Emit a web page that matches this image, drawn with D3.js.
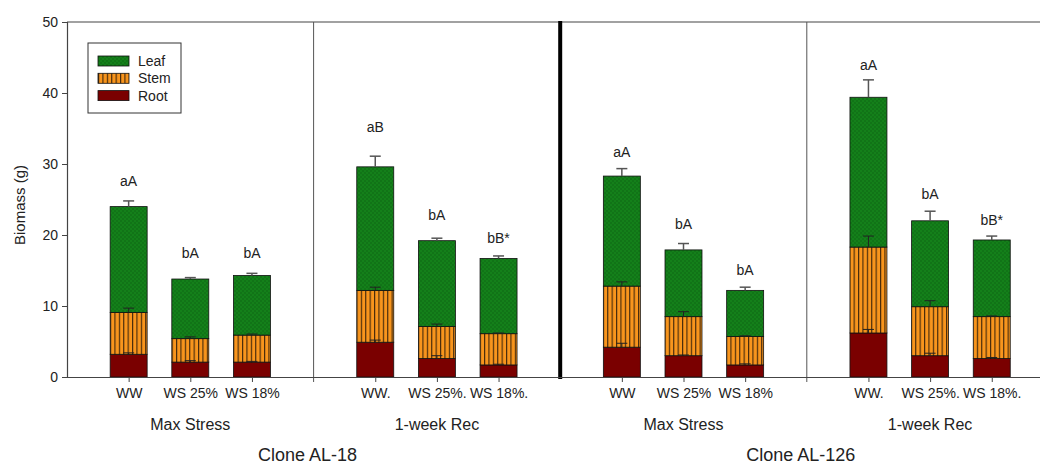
<!DOCTYPE html>
<html>
<head>
<meta charset="utf-8">
<script src="https://cdn.jsdelivr.net/npm/d3@7/dist/d3.min.js"></script>
<style>
  html, body { margin: 0; padding: 0; background: #fff; }
  svg { display: block; font-family: "Liberation Sans", Arial, sans-serif; }
</style>
</head>
<body>
<svg id="chart" width="1040" height="466"></svg>
<script>
// Biomass partitioning (root / stem / leaf) for two poplar clones
const clones = ["Clone AL-18", "Clone AL-126"];
const stages = ["Max Stress", "1-week Rec"];
const treatmentsStress = ["WW", "WS 25%", "WS 18%"];
const treatmentsRec = ["WW.", "WS 25%.", "WS 18%."];

// one value per bar, panel order: AL-18 stress, AL-18 rec, AL-126 stress, AL-126 rec
const root = [3.2, 2.1, 2.1, 4.9, 2.6, 1.7, 4.2, 3.0, 1.7, 6.2, 3.0, 2.6];
const stem = [5.9, 3.3, 3.8, 7.3, 4.5, 4.4, 8.6, 5.5, 4.0, 12.1, 6.9, 5.9];
const leaf = [14.9, 8.4, 8.4, 17.4, 12.1, 10.6, 15.5, 9.4, 6.5, 21.1, 12.1, 10.8];

const rootErr = [0.2, 0.2, 0.1, 0.3, 0.4, 0.1, 0.55, 0.1, 0.15, 0.5, 0.35, 0.15];
const stemErr = [0.6, 0.25, 0.15, 0.45, 0.35, 0.1, 0.6, 0.7, 0.1, 1.55, 0.85, 0.1];
const leafErr = [0.8, 0.2, 0.3, 1.5, 0.35, 0.35, 1.05, 0.9, 0.45, 2.45, 1.35, 0.55];

const letters = ["aA", "bA", "bA", "aB", "bA", "bB*", "aA", "bA", "bA", "aA", "bA", "bB*"];
const letterAt = [27.6, 17.5, 17.5, 35.2, 22.8, 19.6, 31.7, 21.5, 15.1, 43.9, 25.8, 22.1];

const yTicks = [0, 10, 20, 30, 40, 50];
const seriesNames = ["Root", "Stem", "Leaf"];

const rows = root.map((r, i) => ({
  i, panel: Math.floor(i / 3), slot: i % 3,
  Root: r, Stem: stem[i], Leaf: leaf[i],
  rootErr: rootErr[i], stemErr: stemErr[i], leafErr: leafErr[i],
  letter: letters[i], letterAt: letterAt[i],
  label: (Math.floor(i / 3) % 2 === 0 ? treatmentsStress : treatmentsRec)[i % 3]
}));

const svg = d3.select("#chart");
const ink = "#222";
const plotTop = 22, plotBottom = 377, plotLeft = 67;

// four panels, each four slots wide; bars sit on slots 1..3
const x = d3.scaleLinear().domain([0, 16]).range([plotLeft, plotLeft + 4 * 246.6]);
const y = d3.scaleLinear().domain([0, 50]).range([plotBottom, plotTop]);
const barW = (x(1) - x(0)) * 0.6;
const cx = d => x(d.panel * 4 + d.slot + 1);

// fill patterns
const defs = svg.append("defs");
const leafPat = defs.append("pattern").attr("id", "leafPat")
  .attr("patternUnits", "userSpaceOnUse").attr("width", 4).attr("height", 4);
leafPat.append("rect").attr("width", 4).attr("height", 4).attr("fill", "#14801a");
leafPat.append("circle").attr("cx", 1).attr("cy", 1).attr("r", 0.7).attr("fill", "#0b5e10");
leafPat.append("circle").attr("cx", 3).attr("cy", 3).attr("r", 0.7).attr("fill", "#0b5e10");

const stemPat = defs.append("pattern").attr("id", "stemPat")
  .attr("patternUnits", "userSpaceOnUse").attr("width", 4.4).attr("height", 10);
stemPat.append("rect").attr("width", 4.4).attr("height", 10).attr("fill", "#f8951d");
stemPat.append("line").attr("x1", 0.6).attr("x2", 0.6).attr("y1", 0).attr("y2", 10)
  .attr("stroke", "#2a1a08").attr("stroke-width", 1);

const fills = { Root: "#7a0000", Stem: "url(#stemPat)", Leaf: "url(#leafPat)" };

// stacked bars
const stacked = d3.stack().keys(seriesNames)(rows);
svg.append("g").selectAll("g").data(stacked).join("g")
  .attr("fill", s => fills[s.key])
  .selectAll("rect").data(s => s).join("rect")
  .attr("x", d => cx(d.data) - barW / 2)
  .attr("width", barW)
  .attr("y", d => y(d[1]))
  .attr("height", d => y(d[0]) - y(d[1]))
  .attr("stroke", "#111").attr("stroke-width", 0.8);

// upward error bars
const errs = [];
rows.forEach(d => {
  errs.push({ x: cx(d), v: d.Root, e: d.rootErr, c: "#222", w: 1 });
  errs.push({ x: cx(d), v: d.Root + d.Stem, e: d.stemErr, c: "#222", w: 1 });
  errs.push({ x: cx(d), v: d.Root + d.Stem + d.Leaf, e: d.leafErr, c: "#555", w: 1.5 });
});
const eg = svg.append("g").selectAll("g").data(errs).join("g")
  .attr("stroke", d => d.c).attr("stroke-width", d => d.w);
eg.append("line").attr("x1", d => d.x).attr("x2", d => d.x)
  .attr("y1", d => y(d.v)).attr("y2", d => y(d.v + d.e));
eg.append("line").attr("x1", d => d.x - 5.5).attr("x2", d => d.x + 5.5)
  .attr("y1", d => y(d.v + d.e)).attr("y2", d => y(d.v + d.e));

// significance letters
svg.append("g").selectAll("text").data(rows).join("text")
  .attr("x", d => cx(d)).attr("y", d => y(d.letterAt))
  .attr("dy", "0.35em").attr("text-anchor", "middle")
  .attr("font-size", 14).attr("fill", ink)
  .text(d => d.letter);

// frame: top line, panel dividers
svg.append("line").attr("x1", plotLeft).attr("x2", x(16)).attr("y1", plotTop).attr("y2", plotTop)
  .attr("stroke", "#444").attr("stroke-width", 1.2);
[4, 12].forEach(p => {
  svg.append("line").attr("x1", x(p)).attr("x2", x(p)).attr("y1", plotTop).attr("y2", plotBottom + 5)
    .attr("stroke", "#555").attr("stroke-width", 1);
});
svg.append("line").attr("x1", x(8)).attr("x2", x(8)).attr("y1", plotTop - 1).attr("y2", plotBottom + 2)
  .attr("stroke", "#000").attr("stroke-width", 4);

// y axis
const yAxis = svg.append("g").attr("transform", `translate(${plotLeft},0)`)
  .call(d3.axisLeft(y).tickValues(yTicks).tickSize(5).tickPadding(4).tickFormat(d3.format("d")));
yAxis.select(".domain").attr("stroke", "#444").attr("stroke-width", 1.2);
yAxis.selectAll(".tick line").attr("stroke", "#444");
yAxis.selectAll("text").attr("font-size", 14).attr("fill", ink)
  .attr("font-family", "Liberation Sans, Arial, sans-serif");

// x axis with a tick under every bar
const xAxis = svg.append("g").attr("transform", `translate(0,${plotBottom})`)
  .call(d3.axisBottom(x).tickValues(rows.map(d => d.panel * 4 + d.slot + 1))
    .tickSize(5).tickSizeOuter(0).tickPadding(6)
    .tickFormat((v, i) => rows[i].label));
xAxis.select(".domain").attr("stroke", "#444").attr("stroke-width", 1.2);
xAxis.selectAll(".tick line").attr("stroke", "#444");
xAxis.selectAll("text").attr("font-size", 14).attr("fill", ink)
  .attr("font-family", "Liberation Sans, Arial, sans-serif");

// stage and clone labels
svg.append("g").selectAll("text").data(d3.range(4)).join("text")
  .attr("x", p => x(p * 4 + 2)).attr("y", 430)
  .attr("text-anchor", "middle").attr("font-size", 16).attr("fill", ink)
  .text(p => stages[p % 2]);
svg.append("g").selectAll("text").data(clones).join("text")
  .attr("x", (c, k) => x(k * 8 + 4) - 6).attr("y", 461)
  .attr("text-anchor", "middle").attr("font-size", 18).attr("fill", ink)
  .text(c => c);

// y title
svg.append("text")
  .attr("transform", "translate(25,205) rotate(-90)")
  .attr("text-anchor", "middle").attr("font-size", 15).attr("fill", ink)
  .text("Biomass (g)");

// legend
const lg = svg.append("g").attr("transform", "translate(88,43)");
lg.append("rect").attr("width", 93).attr("height", 70)
  .attr("fill", "#fff").attr("stroke", "#333").attr("stroke-width", 1);
const legendItems = ["Leaf", "Stem", "Root"];
const li = lg.selectAll("g.item").data(legendItems).join("g").attr("class", "item")
  .attr("transform", (d, k) => `translate(10,${13 + k * 17.3})`);
li.append("rect").attr("width", 31).attr("height", 10)
  .attr("fill", d => fills[d]).attr("stroke", "#111").attr("stroke-width", 0.8);
li.append("text").attr("x", 40).attr("y", 5).attr("dy", "0.35em")
  .attr("font-size", 14).attr("fill", ink).text(d => d);
</script>
</body>
</html>
